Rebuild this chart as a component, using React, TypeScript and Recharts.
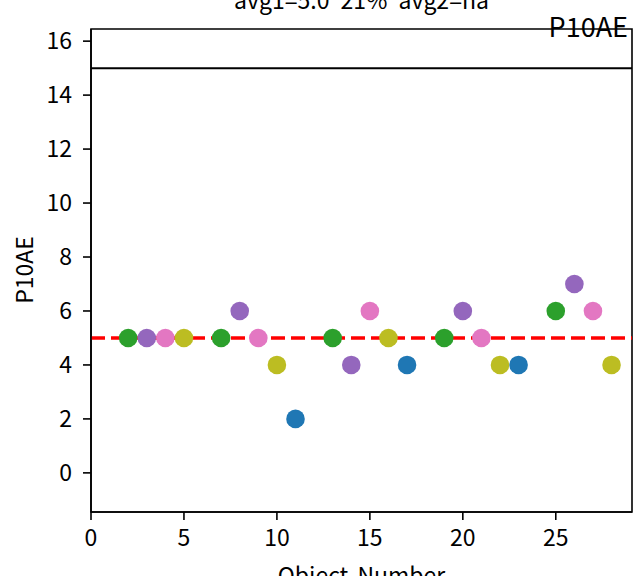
import { ScatterChart, Scatter, XAxis, YAxis, ReferenceLine, ReferenceArea, Cell } from 'recharts';

const objectNumbers = [2, 3, 4, 5, 7, 8, 9, 10, 11, 13, 14, 15, 16, 17, 19, 20, 21, 22, 23, 25, 26, 27, 28];
const p10aeValues = [5, 5, 5, 5, 5, 6, 5, 4, 2, 5, 4, 6, 5, 4, 5, 6, 5, 4, 4, 6, 7, 6, 4];
const pointColors = [
  'green', 'purple', 'pink', 'olive', 'green', 'purple', 'pink', 'olive', 'blue',
  'green', 'purple', 'pink', 'olive', 'blue', 'green', 'purple', 'pink', 'olive', 'blue',
  'green', 'purple', 'pink', 'olive',
];
const xTicks = [0, 5, 10, 15, 20, 25];
const yTicks = [0, 2, 4, 6, 8, 10, 12, 14, 16];
const avg1 = 5;
const limitLine = 15;

const palette: Record<string, string> = {
  green: '#2ca02c',
  purple: '#9467bd',
  pink: '#e377c2',
  olive: '#bcbd22',
  blue: '#1f77b4',
};

const points = objectNumbers.map((x, i) => ({ x, y: p10aeValues[i], color: pointColors[i] }));

const font = '"Noto Sans CJK JP", sans-serif';
const xDomain: [number, number] = [0, 29.1];
const yDomain: [number, number] = [-1.45, 16.45];

const Dot = (props: any) => {
  const { cx, cy, payload } = props;
  return <circle cx={cx} cy={cy} r={9.3} fill={palette[payload.color]} />;
};

export default function App() {
  return (
    <div style={{ position: 'absolute', left: 0, top: 0, width: 633, height: 576, background: '#fff', fontFamily: font, overflow: 'hidden' }}>
      <ScatterChart width={633} height={576} margin={{ top: 29, right: 1, bottom: 24, left: 31 }}>
        <XAxis
          type="number"
          dataKey="x"
          domain={xDomain}
          ticks={xTicks}
          allowDataOverflow
          height={40}
          tickSize={8}
          tickMargin={10}
          axisLine={{ stroke: '#000', strokeWidth: 1.6 }}
          tickLine={{ stroke: '#000', strokeWidth: 1.6 }}
          tick={{ fill: '#000', fontSize: 23, fontFamily: font }}
        />
        <YAxis
          type="number"
          dataKey="y"
          domain={yDomain}
          ticks={yTicks}
          allowDataOverflow
          width={60}
          tickSize={8}
          tickMargin={11}
          axisLine={{ stroke: '#000', strokeWidth: 1.6 }}
          tickLine={{ stroke: '#000', strokeWidth: 1.6 }}
          tick={{ fill: '#000', fontSize: 23, fontFamily: font }}
        />
        <ReferenceArea x1={xDomain[0]} x2={xDomain[1]} y1={yDomain[0]} y2={yDomain[1]} fill="none" stroke="#000" strokeWidth={1.6} ifOverflow="visible" />
        <ReferenceLine y={limitLine} stroke="#000" strokeWidth={2} />
        <Scatter data={points} shape={<Dot />} isAnimationActive={false}>
          {points.map((p, i) => (
            <Cell key={i} fill={palette[p.color]} />
          ))}
        </Scatter>
        <ReferenceLine y={avg1} stroke="#ff0000" strokeWidth={3.5} strokeDasharray="14 6" />
      </ScatterChart>
      <div style={{ position: 'absolute', left: 91, width: 541, textAlign: 'center', top: -17, fontSize: 23, lineHeight: '32px', wordSpacing: 6 }}>
        avg1=5.0 21% avg2=na
      </div>
      <div style={{ position: 'absolute', right: 5, top: 10, fontSize: 27, lineHeight: '32px' }}>P10AE</div>
      <div style={{ position: 'absolute', left: 23, top: 270, fontSize: 23, lineHeight: '26px', transform: 'translate(-50%, -50%) rotate(-90deg)' }}>P10AE</div>
      <div style={{ position: 'absolute', left: 91, width: 541, textAlign: 'center', top: 558, fontSize: 23, lineHeight: '32px', wordSpacing: 4 }}>Object Number</div>
    </div>
  );
}
